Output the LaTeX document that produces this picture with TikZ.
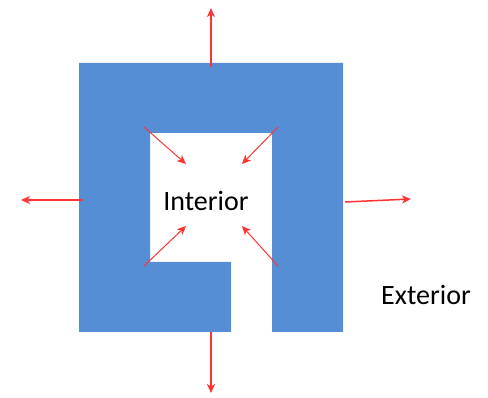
\documentclass[tikz,border=0pt]{standalone}
\usepackage{fontspec}
\setmainfont{Carlito}
\usetikzlibrary{arrows.meta}
\definecolor{wallblue}{RGB}{85,142,213}
\definecolor{arrowred}{RGB}{255,51,51}
\begin{document}
\begin{tikzpicture}[x=1pt,y=-1pt,
  wall/.style={fill=wallblue,draw=none},
  vec/.style={draw=arrowred,line width=1.5pt,-{Stealth[length=9pt,width=8pt,inset=2.5pt]}},
  lbl/.style={font=\fontsize{28}{30}\selectfont,text=black,inner sep=0pt}]
\useasboundingbox (0,0) rectangle (488,398);
% wall with interior hole and gap
\path[wall] (79,63) -- (343,63) -- (343,332) -- (272,332) -- (272,133) -- (150,133)
  -- (150,262) -- (231,262) -- (231,332) -- (79,332) -- cycle;
% outward arrows
\coordinate (ts) at (211,67);  \coordinate (te) at (211,8);
\coordinate (ls) at (83,200);  \coordinate (le) at (21,200);
\coordinate (rs) at (345,202); \coordinate (re) at (411,199);
\coordinate (bs) at (211,332); \coordinate (be) at (211,393);
\draw[vec] (ts) -- (te);
\draw[vec] (ls) -- (le);
\draw[vec] (rs) -- (re);
\draw[vec] (bs) -- (be);
% inward arrows
\coordinate (a1) at (144,127); \coordinate (b1) at (186,164);
\coordinate (a2) at (278,127); \coordinate (b2) at (242,164);
\coordinate (a3) at (144,266); \coordinate (b3) at (186,226);
\coordinate (a4) at (278,266); \coordinate (b4) at (242,226);
\draw[vec,line width=1pt] (a1) -- (b1);
\draw[vec,line width=1pt] (a2) -- (b2);
\draw[vec,line width=1pt] (a3) -- (b3);
\draw[vec,line width=1pt] (a4) -- (b4);
\node[lbl] (interior) at (206,201) {Interior};
\node[lbl] (exterior) at (426,295) {Exterior};
\end{tikzpicture}
\end{document}
